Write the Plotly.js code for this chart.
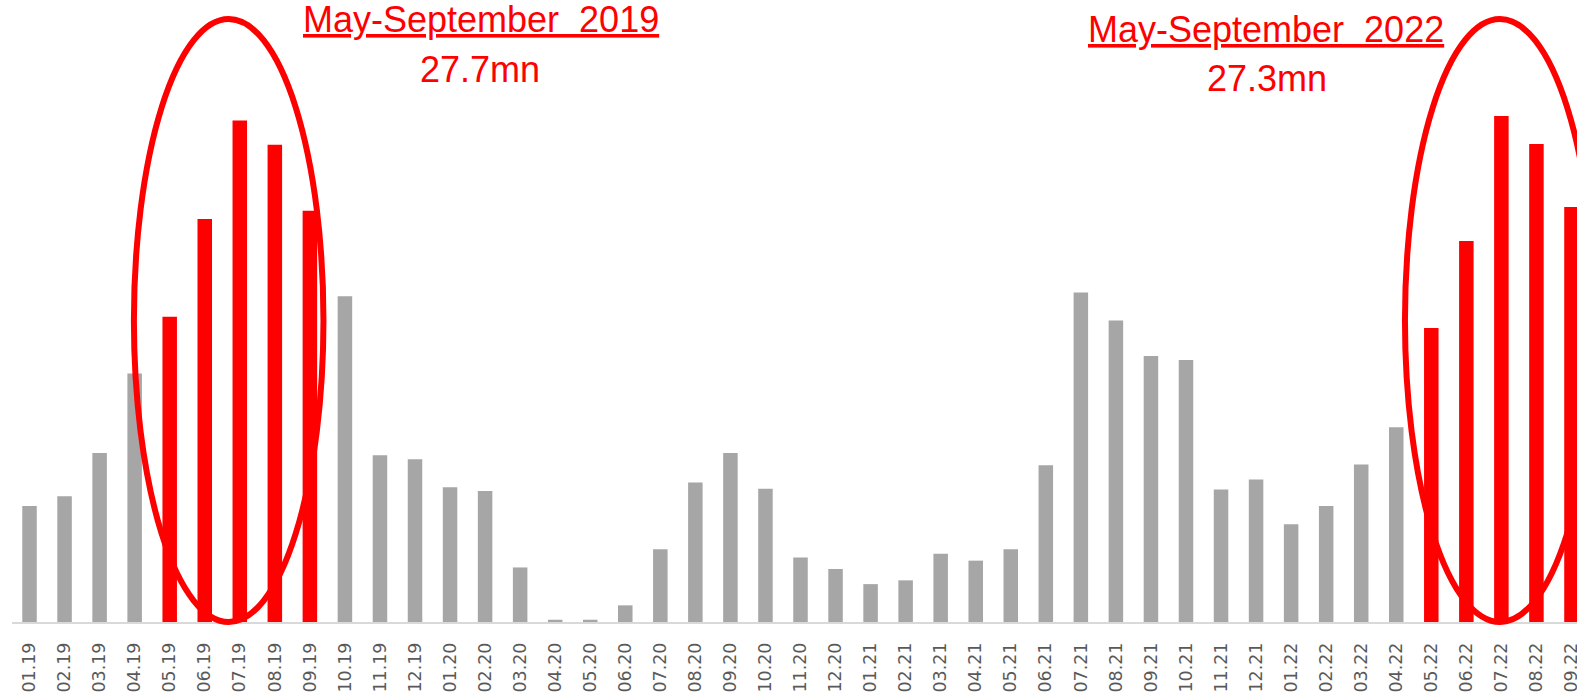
<!DOCTYPE html>
<html>
<head>
<meta charset="utf-8">
<script src="https://cdn.plot.ly/plotly-3.0.1.min.js"></script>
<style>
  html, body { margin: 0; padding: 0; background: #ffffff; overflow: hidden; width: 1577px; height: 692px; }
  #chart { width: 1600px; height: 692px; }
</style>
</head>
<body>
<div id="chart"></div>
<script>
// Month labels (MM.YY)
const months = [
  "01.19","02.19","03.19","04.19","05.19","06.19","07.19","08.19","09.19","10.19","11.19","12.19",
  "01.20","02.20","03.20","04.20","05.20","06.20","07.20","08.20","09.20","10.20","11.20","12.20",
  "01.21","02.21","03.21","04.21","05.21","06.21","07.21","08.21","09.21","10.21","11.21","12.21",
  "01.22","02.22","03.22","04.22","05.22","06.22","07.22","08.22","09.22"
];
// Monthly values (million)
const values = [
  1.53, 1.66, 2.23, 3.28, 4.03, 5.32, 6.62, 6.30, 5.43, 4.30, 2.20, 2.15,
  1.78, 1.73, 0.72, 0.03, 0.03, 0.22, 0.96, 1.84, 2.23, 1.76, 0.85, 0.70,
  0.50, 0.55, 0.90, 0.81, 0.96, 2.07, 4.35, 3.98, 3.51, 3.46, 1.75, 1.88,
  1.29, 1.53, 2.08, 2.57, 3.88, 5.03, 6.68, 6.31, 5.48
];
// Highlighted months (May-September 2019 and 2022)
const highlighted = ["05.19","06.19","07.19","08.19","09.19","05.22","06.22","07.22","08.22","09.22"];
// Callout texts
const periodLabels = ["May-September\u00a0 2019", "May-September\u00a0 2022"];
const periodTotals = ["27.7mn", "27.3mn"];

const RED = "#ff0000";
const GREY = "#a6a6a6";
const colors = months.map(m => highlighted.includes(m) ? RED : GREY);

const trace = {
  type: "bar",
  x: months,
  y: values,
  marker: { color: colors, line: { width: 0 } },
  hoverinfo: "x+y"
};

const textFont = { family: "Liberation Sans, Arial, sans-serif", size: 36, color: RED };

const layout = {
  width: 1600,
  height: 692,
  margin: { l: 12, r: 11, t: 16, b: 70, pad: 0 },
  paper_bgcolor: "#ffffff",
  plot_bgcolor: "#ffffff",
  bargap: 0.586,
  showlegend: false,
  xaxis: {
    type: "category",
    showgrid: false,
    zeroline: false,
    showline: true,
    linecolor: "#d9d9d9",
    linewidth: 1.5,
    ticks: "",
    tickangle: -90,
    ticklabelstandoff: 12,
    tickfont: { family: "DejaVu Sans, sans-serif", size: 17.5, color: "#595959" },
    fixedrange: true
  },
  yaxis: {
    range: [0, 8],
    visible: false,
    showgrid: false,
    zeroline: false,
    fixedrange: true
  },
  shapes: [
    { type: "circle", xref: "paper", yref: "paper", x0: 0.0773, x1: 0.1975, y0: 0.0, y1: 0.9950,
      line: { color: RED, width: 6 }, fillcolor: "rgba(0,0,0,0)", layer: "above" },
    { type: "circle", xref: "paper", yref: "paper", x0: 0.8833, x1: 1.0038, y0: 0.0, y1: 0.9950,
      line: { color: RED, width: 6 }, fillcolor: "rgba(0,0,0,0)", layer: "above" }
  ],
  annotations: [
    { xref: "paper", yref: "paper", x: 0.2972, y: 0.9937, xanchor: "center", yanchor: "middle",
      text: "<u>" + periodLabels[0] + "</u>", showarrow: false, font: textFont },
    { xref: "paper", yref: "paper", x: 0.2970, y: 0.9119, xanchor: "center", yanchor: "middle",
      text: periodTotals[0], showarrow: false, font: textFont },
    { xref: "paper", yref: "paper", x: 0.7953, y: 0.9782, xanchor: "center", yanchor: "middle",
      text: "<u>" + periodLabels[1] + "</u>", showarrow: false, font: textFont },
    { xref: "paper", yref: "paper", x: 0.7958, y: 0.8969, xanchor: "center", yanchor: "middle",
      text: periodTotals[1], showarrow: false, font: textFont }
  ]
};

Plotly.newPlot("chart", [trace], layout, { displayModeBar: false, staticPlot: true });
</script>
</body>
</html>
